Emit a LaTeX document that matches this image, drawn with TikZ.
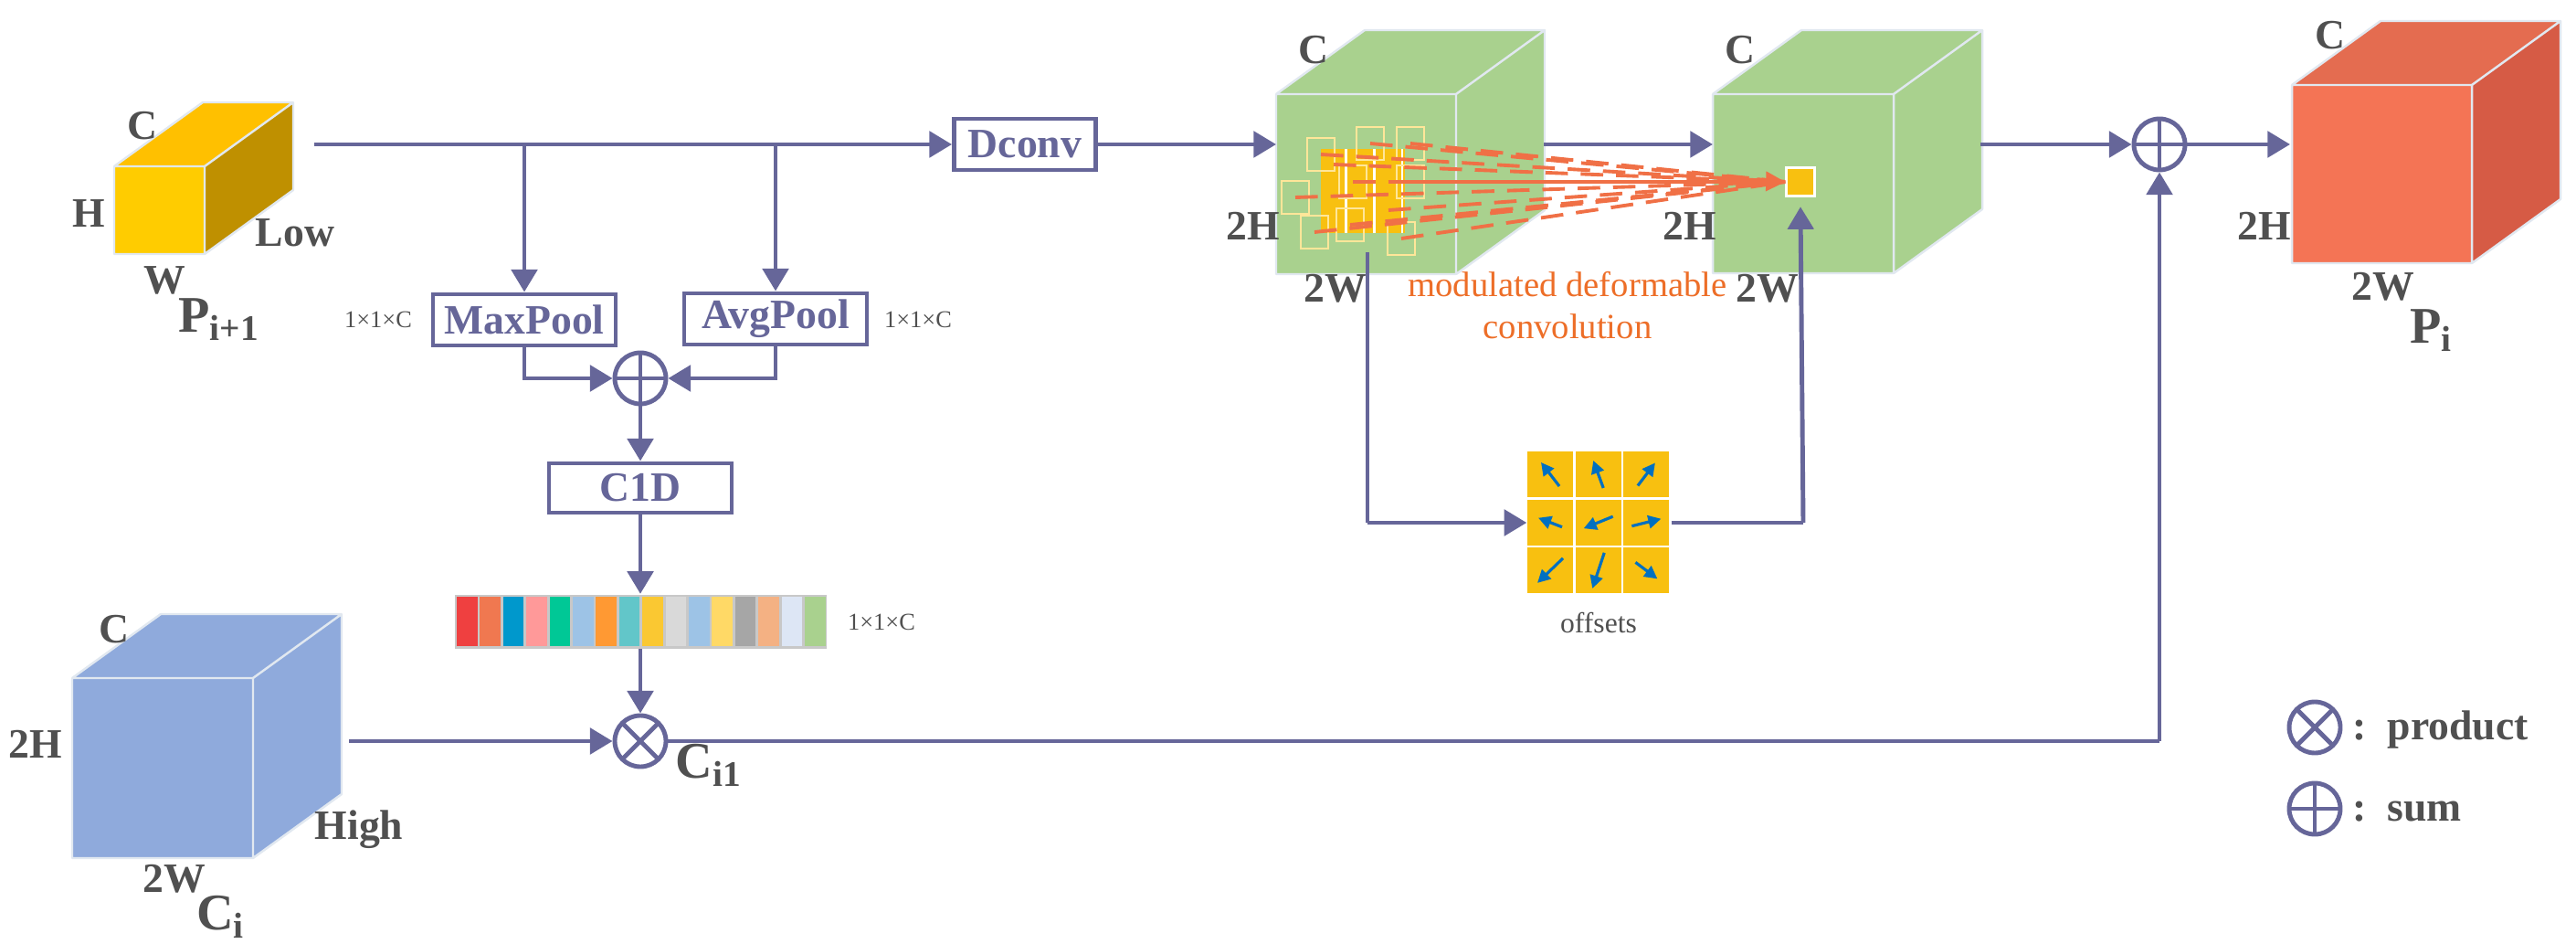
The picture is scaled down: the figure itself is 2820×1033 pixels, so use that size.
\documentclass[tikz,border=0pt]{standalone}
\usepackage{fontspec}
\setmainfont{Liberation Serif}
\usetikzlibrary{arrows.meta,calc}
\definecolor{lc}{RGB}{102,102,153}
\definecolor{tc}{RGB}{80,80,80}
\definecolor{oc}{RGB}{237,110,40}
\definecolor{dc}{RGB}{240,112,70}
\definecolor{gy}{RGB}{248,192,16}
\definecolor{ab}{RGB}{0,112,192}
\definecolor{edgec}{RGB}{225,232,240}
\definecolor{yf}{RGB}{255,204,0}
\definecolor{yt}{RGB}{255,192,0}
\definecolor{ys}{RGB}{191,144,0}
\definecolor{bl}{RGB}{143,170,220}
\definecolor{gr}{RGB}{169,209,142}
\definecolor{rf}{RGB}{244,116,85}
\definecolor{rt}{RGB}{228,108,80}
\definecolor{rs}{RGB}{214,91,69}
\definecolor{olc}{RGB}{255,230,153}
\definecolor{barc}{RGB}{200,200,200}
\newcommand\mycube[7]{%
 \fill[#6] (#1,#2) -- ++(97,-70) -- ++(#3,0) -- ++(-97,70) -- cycle;
 \fill[#7] (#1+#3,#2) -- ++(97,-70) -- ++(0,#4) -- ++(-97,70) -- cycle;
 \fill[#5] (#1,#2) rectangle ++(#3,#4);
 \draw[edgec,line width=0.7pt,line join=round] (#1,#2) rectangle ++(#3,#4)
   (#1,#2) -- ++(97,-70) -- ++(#3,0) -- ++(0,#4) -- ++(-97,70)
   (#1+#3,#2) -- ++(97,-70);}
\tikzset{
 ln/.style={draw=lc,line width=1.4pt},
 arr/.style={ln,-{Triangle[length=7pt,width=8pt]}},
 box/.style={draw=lc,line width=1.4pt,fill=white,minimum height=5.6mm,inner sep=0,
   text=lc,font=\bfseries\fontsize{13}{13}\selectfont},
 op/.style={circle,draw=lc,line width=1.4pt,minimum size=5.6mm,inner sep=0},
 oplus/.style={op,path picture={\draw[lc,line width=1.4pt] (path picture bounding box.north)--(path picture bounding box.south) (path picture bounding box.west)--(path picture bounding box.east);}},
 otimes/.style={op,path picture={\draw[lc,line width=1.4pt] ([shift={(45:3mm)}]path picture bounding box.center)--([shift={(225:3mm)}]path picture bounding box.center) ([shift={(135:3mm)}]path picture bounding box.center)--([shift={(315:3mm)}]path picture bounding box.center);}},
 lab/.style={text=tc,font=\bfseries\fontsize{13}{13}\selectfont,inner sep=0},
 big/.style={text=tc,font=\bfseries\fontsize{16}{16}\selectfont,inner sep=0},
 sm/.style={text=tc,font=\fontsize{7.5}{8}\selectfont,inner sep=0},
 ol/.style={draw=olc,line width=0.7pt},
 dl/.style={draw=dc,line width=1.1pt,dash pattern=on 7pt off 4pt},
 oa/.style={draw=ab,line width=0.9pt,-{Triangle[length=4pt,width=4pt]}},
}
\begin{document}
\begin{tikzpicture}[x=0.1mm,y=-0.1mm]
\useasboundingbox (0,0) rectangle (2820,1033);
% cubes
\mycube{125}{182}{99}{96}{yf}{yt}{ys}
\mycube{79}{742}{198}{197}{bl}{bl}{bl}
\mycube{1397}{103}{197}{197}{gr}{gr}{gr}
\mycube{1875}{103}{198}{196}{gr}{gr}{gr}
\mycube{2509}{93}{197}{195}{rf}{rt}{rs}
% cube labels
\node[lab] (ly1) at (156,138) {C};
\node[lab] (ly2) at (97,234) {H};
\node[lab] (ly3) at (323,255) {Low};
\node[lab] (ly4) at (180,307) {W};
\node[big] (ly5) at (240,350) {P\textsubscript{i+1}};
\node[lab] (lb1) at (125,689) {C};
\node[lab] (lb2) at (39,814) {2H};
\node[lab] (lb3) at (393,908) {High};
\node[lab] (lb4) at (191,962) {2W};
\node[big] (lb5) at (242,1003) {C\textsubscript{i}};
\node[lab] (lg1) at (1438,55) {C};
\node[lab] (lg2) at (1372,247) {2H};
\node[lab] (lg3) at (1462,316) {2W};
\node[lab] (lh1) at (1905,55) {C};
\node[lab] (lh2) at (1850,247) {2H};
\node[lab] (lh3) at (1935,316) {2W};
\node[lab] (lr1) at (2551,39) {C};
\node[lab] (lr2) at (2479,247) {2H};
\node[lab] (lr3) at (2609,314) {2W};
\node[big] (lr4) at (2662,362) {P\textsubscript{i}};
% sampling grid on green cube
\fill[gy] (1446,163) rectangle (1538,255);
\draw[white,line width=0.8pt] (1446,163) grid[xstep=30.7,ystep=30.7] (1538,255);
\foreach \x/\y in {1446/169,1500/157,1544/157,1481/199,1544/199,1418/216,1439/254,1478/246,1534/261}
  \draw[ol] (\x-15,\y-18) rectangle (\x+15,\y+18);
\node[fill=gy,draw=white,line width=0.7pt,minimum width=3.1mm,minimum height=3.1mm,inner sep=0] (sq) at (1971,199) {};
\foreach \x/\y in {1446/169,1500/157,1544/157,1481/199,1544/199,1418/216,1439/254,1478/246,1534/261,1460/180,1520/230}
  \draw[dl] (\x,\y) -- (sq.west);
\draw[dl,-{Triangle[length=6pt,width=6pt]},solid] (1880,197) -- (sq.west);
\node[text=oc,font=\fontsize{11}{13}\selectfont,align=center] (mdc) at (1716,334) {modulated deformable\\convolution};
% boxes
\node[box,minimum width=15.5mm] (dconv) at (1122,158) {Dconv};
\node[box,minimum width=20mm] (maxpool) at (574,350) {MaxPool};
\node[box,minimum width=20mm] (avgpool) at (849,349) {AvgPool};
\node[box,minimum width=20mm,minimum height=5.4mm] (c1d) at (701,534) {C1D};
\node[sm] (s1) at (414,350) {1×1×C};
\node[sm] (s2) at (1005,350) {1×1×C};
\node[sm] (s3) at (965,681) {1×1×C};
\node[oplus] (sum1) at (701,414) {};
\node[otimes] (prod) at (701,811) {};
\node[oplus] (sum2) at (2364,158) {};
\node[lab,font=\bfseries\fontsize{16}{16}\selectfont] (ci1) at (776,837) {C\textsubscript{i1}};
% color bar
\node[fill=barc,minimum width=40.7mm,minimum height=5.9mm,inner sep=0] (bar) at (701,680) {};
\foreach \c [count=\i from 0] in {EF4040,F07850,0098CC,FF9999,00C896,9DC3E6,FF9933,62C6C9,FAC832,D9D9D9,9DC3E6,FFD966,A6A6A6,F4B183,DDE6F5,A9D18E}{
  \definecolor{tmp}{HTML}{\c}
  \fill[tmp] (500+\i*25.4,653) rectangle ++(22.6,54);}
% offsets grid
\node[minimum width=15.7mm,minimum height=15.6mm,inner sep=0] (grid) at (1750.5,572) {};
\foreach \dx/\dy/\vx/\vy in {0/0/-20/-26,1/0/-11/-30,2/0/19/-25,0/1/-26/-10,1/1/-32/13,2/1/32/-8,0/2/-28/27,1/2/-13/39,2/2/24/18}{
  \fill[gy] (1672+\dx*52.7,494+\dy*52.7) rectangle ++(50,50);
  \draw[oa] (1697+\dx*52.7-0.5*\vx,519+\dy*52.7-0.5*\vy) -- ++(\vx,\vy);}
\node[text=tc,font=\fontsize{9}{10}\selectfont] (offs) at (1750,682) {offsets};
% connectors
\coordinate (pst) at (344,158);
\coordinate (b1) at (574,158);
\coordinate (b2) at (849,158);
\coordinate (g1in) at (1397,158);
\coordinate (g1out) at (1690,158);
\coordinate (g2in) at (1875,158);
\coordinate (g2out) at (2168,158);
\coordinate (rin) at (2507,158);
\coordinate (bout) at (382,811);
\coordinate (corner) at (2364,811);
\coordinate (vtop) at (1497,276);
\coordinate (vbot) at (1497,572);
\coordinate (ocorner) at (1974,572);
\draw[ln] (pst) -- (b1) -- (b2);
\draw[arr] (b2) -- (dconv.west);
\draw[arr] (b1) -- (maxpool.north);
\draw[arr] (b2) -- (avgpool.north);
\draw[arr] (maxpool.south) |- (sum1.west);
\draw[arr] (avgpool.south) |- (sum1.east);
\draw[arr] (sum1.south) -- (c1d.north);
\draw[arr] (c1d.south) -- (bar.north);
\draw[arr] (bar.south) -- (prod.north);
\draw[arr] (bout) -- (prod.west);
\draw[ln] (prod.east) -- (corner);
\draw[arr] (corner) -- (sum2.south);
\draw[arr] (dconv.east) -- (g1in);
\draw[arr] (g1out) -- (g2in);
\draw[arr] (g2out) -- (sum2.west);
\draw[arr] (sum2.east) -- (rin);
\draw[ln] (vtop) -- (vbot);
\draw[arr] (vbot) -- (grid.west);
\draw[ln] (grid.east) -- (ocorner);
\draw[arr] (ocorner) -- ([yshift=-3pt]sq.south);
% legend
\node[otimes] (lgp) at (2534,796) {};
\node[oplus] (lgs) at (2534,885) {};
\node[lab,anchor=west] (lgpt) at (2575,799) {:\enspace product};
\node[lab,anchor=west] (lgst) at (2575,888) {:\enspace sum};
\end{tikzpicture}
\end{document}
